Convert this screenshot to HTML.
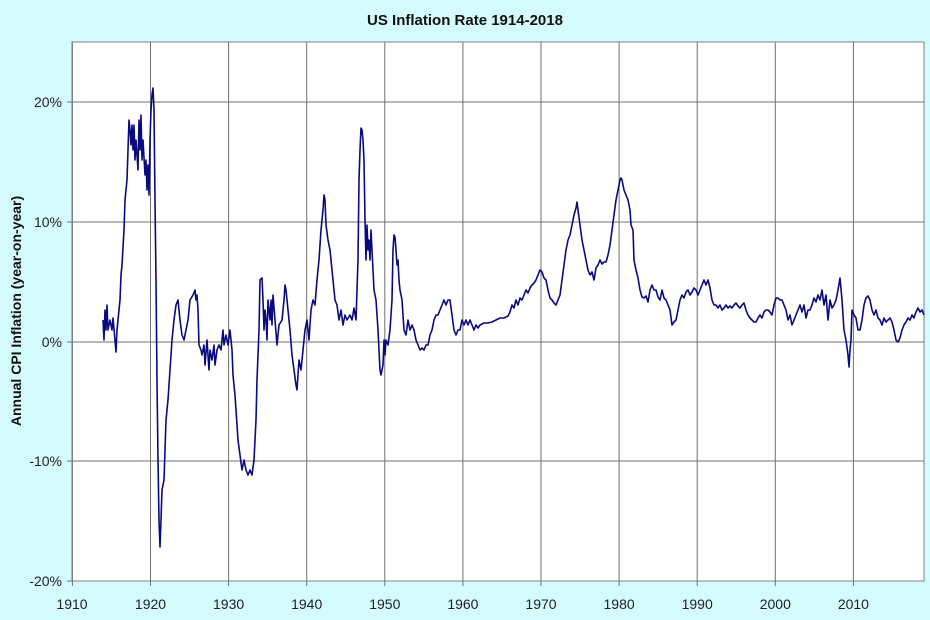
<!DOCTYPE html>
<html><head><meta charset="utf-8"><style>
html,body{margin:0;padding:0;background:#d4fbfe;}
svg{display:block;font-family:"Liberation Sans",sans-serif;}
</style></head><body>
<svg width="930" height="620" viewBox="0 0 930 620">
<rect width="930" height="620" fill="#d4fbfe"/>
<rect x="72" y="42" width="852" height="539" fill="#fff" stroke="#808080" stroke-width="1"/>
<g stroke="#707070" stroke-width="1">
<line x1="72" y1="102" x2="924" y2="102"/><line x1="72" y1="222" x2="924" y2="222"/>
<line x1="72" y1="342" x2="924" y2="342"/><line x1="72" y1="461" x2="924" y2="461"/>
<line x1="150.5" y1="42" x2="150.5" y2="586"/><line x1="228.6" y1="42" x2="228.6" y2="586"/>
<line x1="306.7" y1="42" x2="306.7" y2="586"/><line x1="384.8" y1="42" x2="384.8" y2="586"/>
<line x1="462.9" y1="42" x2="462.9" y2="586"/><line x1="541" y1="42" x2="541" y2="586"/>
<line x1="619.1" y1="42" x2="619.1" y2="586"/><line x1="697.2" y1="42" x2="697.2" y2="586"/>
<line x1="775.3" y1="42" x2="775.3" y2="586"/><line x1="853.4" y1="42" x2="853.4" y2="586"/>
<line x1="72.4" y1="42" x2="72.4" y2="586"/>
<line x1="67" y1="102" x2="72" y2="102"/><line x1="67" y1="222" x2="72" y2="222"/><line x1="67" y1="342" x2="72" y2="342"/><line x1="67" y1="461" x2="72" y2="461"/><line x1="67" y1="581" x2="72" y2="581"/>
</g>
<text x="465" y="25" text-anchor="middle" font-size="15" font-weight="bold" fill="#111">US Inflation Rate 1914-2018</text>
<g font-size="14" fill="#222" text-anchor="end">
<text x="62" y="107">20%</text><text x="62" y="227">10%</text><text x="62" y="347">0%</text><text x="62" y="466">-10%</text><text x="62" y="586">-20%</text>
</g>
<g font-size="14" fill="#222" text-anchor="middle">
<text x="72" y="609">1910</text><text x="150.5" y="609">1920</text><text x="228.6" y="609">1930</text><text x="306.7" y="609">1940</text><text x="384.8" y="609">1950</text><text x="462.9" y="609">1960</text><text x="541" y="609">1970</text><text x="619.1" y="609">1980</text><text x="697.2" y="609">1990</text><text x="775.3" y="609">2000</text><text x="853.4" y="609">2010</text>
</g>
<text transform="translate(21,311) rotate(-90)" text-anchor="middle" font-size="14" font-weight="bold" fill="#111">Annual CPI Inflation (year-on-year)</text>
<polyline fill="none" stroke="#0a0a80" stroke-width="1.6" stroke-linejoin="round" points="103,320 104,340 105,310 106,330 107,305 108,330 110,320 112,330 113,318 115,340 116,352 117,330 118,320 120,300 121,275 122,265 124,230 125,200 127,180 128,150 129,120 130,130 131,145 132,125 133,150 134,125 135,160 136,140 138,170 139,120 140,150 141,115 142,160 143,140 145,175 146,160 147,190 148,165 149,195 150,140 151,110 152,95 153,88 154,110 155,200 156,280 157,380 158,460 159,520 160,547 161,520 162,490 164,480 165,450 166,420 168,400 170,370 172,340 174,320 176,305 178,300 180,320 182,335 184,340 186,330 188,320 190,300 193,295 195,290 196,300 197,295 198,310 199,345 201,350 202,355 204,345 205,365 207,340 209,370 210,350 212,360 214,345 215,365 217,350 219,345 221,350 223,330 224,345 226,335 228,345 230,330 232,350 233,375 235,395 236,410 238,440 240,455 242,470 244,460 246,470 248,475 250,470 252,475 254,460 256,420 257,380 259,330 260,280 262,278 263,300 264,330 265,310 266,320 267,340 268,300 270,320 271,300 272,325 273,295 275,320 277,345 279,325 282,320 284,300 285,285 286,290 288,310 290,330 292,355 294,370 296,385 297,390 299,360 301,370 303,350 305,330 307,320 309,340 311,310 313,300 315,305 317,280 319,260 321,230 323,210 324,195 325,200 326,225 328,240 330,250 332,270 335,300 337,305 339,320 341,310 343,325 345,315 347,320 350,315 352,320 354,308 356,320 357,290 358,260 359,180 360,150 361,128 362,130 363,140 364,160 365,220 366,260 367,225 368,250 369,240 370,260 371,230 372,250 373,270 374,290 376,300 378,330 380,370 381,375 382,370 383,365 384,340 385,355 386,340 388,345 390,330 392,300 393,250 394,235 395,237 396,250 397,265 398,260 399,280 400,290 402,300 404,330 406,335 408,320 410,330 412,325 414,330 416,340 418,345 420,350 422,348 424,350 426,345 428,345 430,335 432,330 434,320 436,315 438,315 440,310 442,305 444,300 446,305 448,300 450,300 452,315 454,330 456,335 458,330 460,330 462,320 464,325 466,320 468,325 470,320 472,325 474,330 476,325 478,328 480,325 484,323 488,323 492,322 496,320 500,318 504,318 508,316 510,312 512,305 514,308 516,300 518,305 520,298 522,300 524,295 526,290 528,293 530,288 532,285 534,283 536,280 538,275 540,270 542,272 544,278 546,280 548,290 550,298 552,300 554,303 556,305 558,300 560,295 562,280 564,265 566,250 568,240 570,235 572,225 574,215 576,208 577,202 578,210 580,225 582,240 584,250 586,260 588,270 590,275 592,272 594,280 596,268 598,265 600,260 602,264 604,262 606,262 608,255 610,245 612,230 614,215 616,200 618,190 620,180 621,178 622,180 624,190 626,195 628,200 630,210 631,225 633,230 634,260 636,270 638,278 640,290 642,297 644,298 646,296 648,302 650,290 652,285 654,290 656,290 658,297 660,300 662,290 664,298 666,300 668,305 670,310 672,325 674,322 676,320 678,310 680,300 682,295 684,298 686,292 688,290 690,295 692,292 694,288 696,290 698,295 700,290 702,285 704,280 706,285 708,280 710,288 712,300 714,305 716,305 718,308 720,305 722,310 724,308 726,305 728,308 730,306 732,308 734,305 736,303 738,306 740,308 742,305 744,303 746,310 748,315 750,318 752,320 754,322 756,322 758,318 760,315 762,318 764,312 766,310 768,310 770,312 772,315 774,305 776,298 778,298 780,300 782,300 784,305 786,310 788,320 790,315 792,325 794,320 796,315 798,310 800,305 802,312 804,305 806,318 808,310 810,310 812,305 814,298 816,302 818,295 820,300 822,290 824,305 826,295 828,320 830,300 832,308 834,305 836,300 838,290 840,278 842,300 844,330 846,340 848,355 849,367 850,350 851,340 852,310 854,315 856,318 858,330 860,330 862,320 864,305 866,298 868,296 870,300 872,310 874,315 876,310 878,318 880,320 882,325 884,318 886,322 888,320 890,318 892,322 894,330 896,340 898,342 900,338 902,330 904,325 906,322 908,318 910,320 912,315 914,318 916,312 918,308 920,312 922,310 924,315"/>
</svg>
</body></html>
